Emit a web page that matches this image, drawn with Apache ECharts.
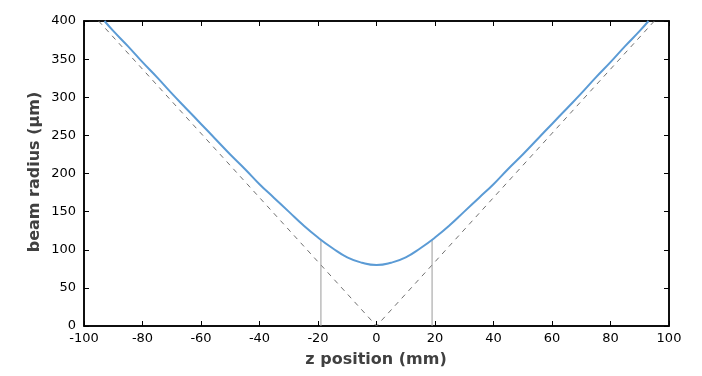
<!DOCTYPE html>
<html>
<head>
<meta charset="utf-8">
<script src="https://cdn.jsdelivr.net/npm/echarts@6/dist/echarts.min.js"></script>
<style>
  html, body { margin: 0; padding: 0; background: #fff; }
  #chart { width: 702px; height: 376px; }
</style>
</head>
<body>
<div id="chart"></div>
<script>
  // beam radius, z in mm, radius in um
  const zPos = [-93, -90, -85, -80, -75, -70, -65, -60, -55, -50, -45, -40, -35, -30, -25, -20, -15, -10, -5, 0,
    5, 10, 15, 20, 25, 30, 35, 40, 45, 50, 55, 60, 65, 70, 75, 80, 85, 90, 93];
  const radius = [400, 387, 367, 346, 326, 305, 285, 265, 245, 225, 206, 186, 168, 150, 132, 116, 102, 90, 83, 80,
    83, 90, 102, 116, 132, 150, 168, 186, 206, 225, 245, 265, 285, 305, 326, 346, 367, 387, 400];

  // far-field asymptotes (dashed)
  const asymZ = [-95, 0, 95];
  const asymR = [400, 0, 400];

  // Rayleigh range markers
  const rayleighZ = [-19, 19];
  const rayleighR = 113;

  // [min, max, number of steps]
  const xTicks = [-100, 100, 10];
  const yTicks = [0, 400, 8];

  const xTitle = 'z position (mm)';
  const yTitle = 'beam radius (µm)';

  const font = 'DejaVu Sans, Verdana, sans-serif';
  const chart = echarts.init(document.getElementById('chart'));

  // frame axes: line + inward ticks, no labels
  function tickAxis(t, pos) {
    return {
      type: 'value',
      gridIndex: 0,
      min: t[0],
      max: t[1],
      splitNumber: t[2],
      position: pos,
      axisLine: { show: true, onZero: false, lineStyle: { color: '#000', width: 1.5 } },
      axisTick: { show: true, inside: true, length: 5, lineStyle: { color: '#000' } },
      splitLine: { show: false },
      axisLabel: { show: false },
    };
  }

  // label axes: only the tick labels
  function labelAxis(t, pos, margin) {
    return {
      type: 'value',
      gridIndex: 0,
      min: t[0],
      max: t[1],
      splitNumber: t[2],
      position: pos,
      axisLine: { show: false, onZero: false },
      axisTick: { show: false },
      splitLine: { show: false },
      axisLabel: { show: true, margin: margin, fontFamily: font, fontSize: 13, color: '#000' },
    };
  }

  const titleStyle = { fontFamily: font, fontSize: 16, fontWeight: 'bold', fill: '#404040' };

  const option = {
    animation: false,
    grid: [{ left: 84, right: 33, top: 21, bottom: 50, show: true, borderColor: '#000', borderWidth: 1.5, backgroundColor: 'transparent' }],
    xAxis: [
      tickAxis(xTicks, 'bottom'),
      tickAxis(xTicks, 'top'),
      labelAxis(xTicks, 'bottom', 6),
    ],
    yAxis: [
      tickAxis(yTicks, 'left'),
      tickAxis(yTicks, 'right'),
      labelAxis(yTicks, 'left', 8),
    ],
    // axis titles
    graphic: [
      {
        type: 'text',
        x: 376, y: 360,
        style: Object.assign({ text: xTitle, textAlign: 'center', textVerticalAlign: 'middle' }, titleStyle),
      },
      {
        type: 'text',
        x: 35, y: 172,
        rotation: Math.PI / 2,
        style: Object.assign({ text: yTitle, textAlign: 'center', textVerticalAlign: 'middle' }, titleStyle),
      },
    ],
    series: [
      {
        type: 'line',
        xAxisIndex: 0, yAxisIndex: 0,
        data: asymZ.map((z, i) => [z, asymR[i]]),
        showSymbol: false,
        lineStyle: { color: '#707070', width: 1, type: [5, 5] },
      },
      ...rayleighZ.map((z) => ({
        type: 'line',
        xAxisIndex: 0, yAxisIndex: 0,
        data: [[z, 0], [z, rayleighR]],
        showSymbol: false,
        lineStyle: { color: '#9a9a9a', width: 1 },
      })),
      {
        type: 'line',
        xAxisIndex: 0, yAxisIndex: 0,
        data: zPos.map((z, i) => [z, radius[i]]),
        showSymbol: false,
        smooth: 0.5,
        lineStyle: { color: '#5b9bd5', width: 2 },
      },
    ],
  };

  chart.setOption(option);
</script>
</body>
</html>
